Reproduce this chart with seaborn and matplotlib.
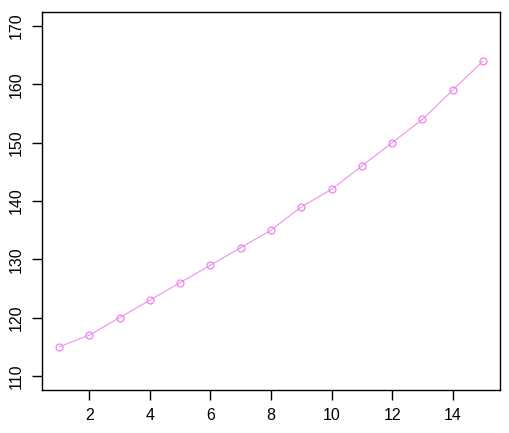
import matplotlib
matplotlib.use("Agg")
import matplotlib.pyplot as plt
import seaborn as sns
import pandas as pd

# women dataset style values
idx = list(range(1, 16))
weight = [115, 117, 120, 123, 126, 129, 132, 135, 139, 142, 146, 150, 154, 159, 164]

df = pd.DataFrame({"idx": idx, "weight": weight})

sns.set_style("white")
plt.rcParams["font.family"] = ["Liberation Sans", "DejaVu Sans"]

fig = plt.figure(figsize=(5.1, 4.33), dpi=100)
ax = fig.add_axes([42 / 510, 1 - 390 / 433, (500 - 42) / 510, (390 - 12) / 433])

sns.lineplot(data=df, x="idx", y="weight", ax=ax, color="violet",
             linewidth=0.7, marker="o", markersize=5, markerfacecolor="none",
             markeredgecolor="violet", markeredgewidth=0.9)

ax.set_xlim(0.44, 15.56)
ax.set_ylim(107.6, 172.4)
ax.set_xticks([2, 4, 6, 8, 10, 12, 14])
ax.set_yticks([110, 120, 130, 140, 150, 160, 170])
ax.set_xlabel("")
ax.set_ylabel("")
for s in ax.spines.values():
    s.set_visible(True)
    s.set_color("black")
    s.set_linewidth(1.0)
ax.tick_params(axis="both", direction="out", length=7, width=1, color="black",
               labelsize=11.5, labelcolor="black", pad=6, bottom=True, left=True)
for lab in ax.get_yticklabels():
    lab.set_rotation(90)
    lab.set_va("center")

fig.savefig("out.png", dpi=100)
